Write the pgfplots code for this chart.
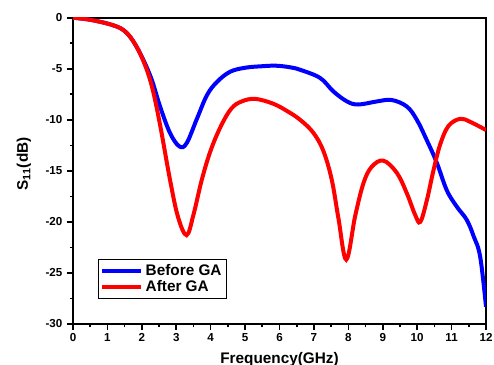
\documentclass[border=0pt]{standalone}
\usepackage{pgfplots}
\pgfplotsset{compat=1.18}
\usepackage{fontspec}
\setmainfont{Liberation Sans}
\begin{document}
\begin{tikzpicture}
\begin{axis}[
  name=ax,
  scale only axis,
  width=309.75pt, height=229.7pt,
  xmin=0, xmax=12, ymin=-30, ymax=0,
  axis line style={line width=1.4pt},
  xtick={0,1,...,12},
  xticklabels={0,1,2,3,4,5,6,7,8,9,10,11,12},
  ytick={-30,-25,-20,-15,-10,-5,0},
  yticklabels={-30,-25,-20,-15,-10,-5,0},
  minor xtick={0.5,1.5,...,11.5},
  minor ytick={-27.5,-22.5,-17.5,-12.5,-7.5,-2.5},
  tick align=outside,
  xtick pos=left, ytick pos=left,
  major tick length=4.5pt, minor tick length=2.5pt,
  tick style={line width=1.2pt, black},
  ticklabel style={font=\fontsize{8.7}{10}\selectfont\bfseries},
  xticklabel style={yshift=1pt},
  xlabel={Frequency(GHz)},
  ylabel={S$_{\mathbf{11}}$(dB)},
  label style={font=\fontsize{11.5}{13}\selectfont\bfseries},
  xlabel style={yshift=-1pt},
  ylabel style={yshift=4pt, xshift=5pt},
  legend cell align=left,
  legend style={at={(rel axis cs:0.0605,0.2122)}, anchor=north west,
    font=\fontsize{11.5}{12}\selectfont\bfseries, draw=black, line width=0.6pt,
    inner sep=1.5pt, row sep=-1.5pt},
  legend image code/.code={\draw[#1, line width=3pt] (0pt,0pt) -- (29pt,0pt);},
  clip=true,
]
\addplot[blue, line width=3pt, smooth, tension=0.6] coordinates {
(0,0) (0.5,-0.2) (1.08,-0.65) (1.46,-1.2) (1.75,-2.3) (2.04,-4.1) (2.29,-6.1) (2.53,-8.7) (2.82,-11.3) (3.09,-12.6) (3.3,-12.3) (3.6,-9.9) (3.89,-7.6) (4.18,-6.3) (4.56,-5.3) (5.0,-4.9) (5.5,-4.75) (5.9,-4.7) (6.3,-4.85) (6.6,-5.1) (7.18,-5.9) (7.56,-7.2) (7.96,-8.2) (8.29,-8.5) (8.83,-8.2) (9.26,-8.06) (9.7,-8.7) (9.99,-10.0) (10.28,-12.0) (10.57,-14.2) (10.86,-16.9) (11.15,-18.5) (11.44,-19.8) (11.64,-21.4) (11.83,-23.4) (12,-28.3)
};
\addlegendentry{Before GA}
\addplot[red, line width=3pt, smooth, tension=0.6] coordinates {
(0,0) (0.5,-0.2) (1.08,-0.65) (1.46,-1.2) (1.75,-2.3) (2.04,-4.2) (2.29,-6.7) (2.53,-10.5) (2.82,-15.9) (3.05,-19.5) (3.3,-21.3) (3.5,-19.3) (3.74,-15.9) (4.0,-13.0) (4.3,-10.6) (4.6,-8.9) (4.9,-8.2) (5.29,-7.95) (5.8,-8.4) (6.2,-9.1) (6.6,-10.0) (6.99,-11.3) (7.28,-13.1) (7.52,-15.9) (7.71,-19.6) (7.94,-23.7) (8.2,-19.4) (8.44,-16.2) (8.68,-14.6) (9.02,-14.0) (9.41,-15.2) (9.7,-17.2) (9.94,-19.3) (10.09,-20.0) (10.28,-17.9) (10.47,-15.0) (10.67,-12.4) (10.91,-10.6) (11.25,-9.9) (11.54,-10.2) (12,-11.0)
};
\addlegendentry{After GA}
\end{axis}
\pgfresetboundingbox
\path ([xshift=-54.75pt,yshift=-30.75pt]ax.south west) rectangle ([xshift=6pt,yshift=13.3pt]ax.north east);
\end{tikzpicture}
\end{document}
